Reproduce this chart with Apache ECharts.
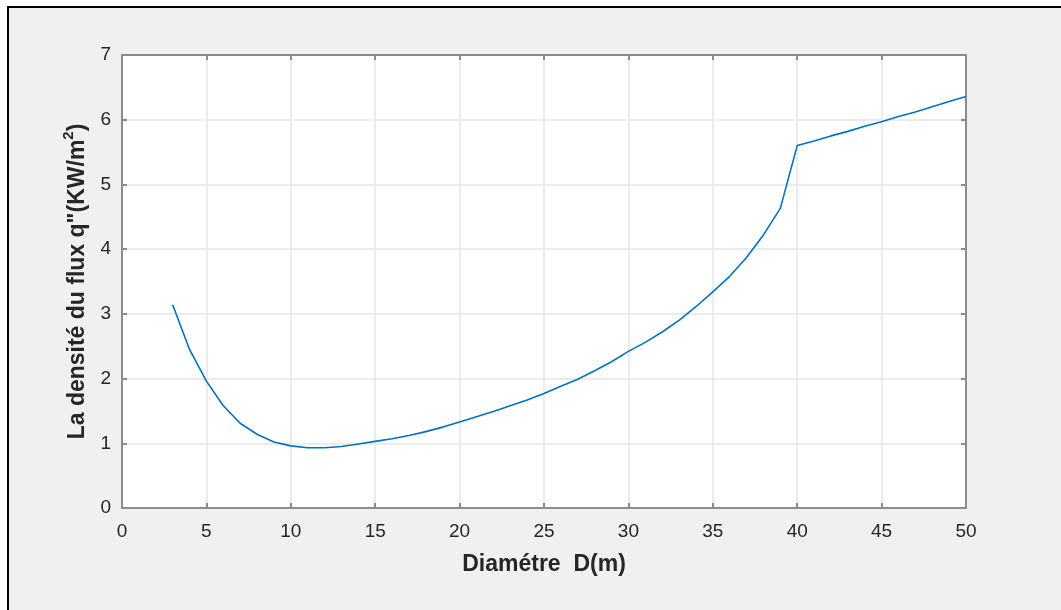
<!DOCTYPE html>
<html>
<head>
<meta charset="utf-8">
<script src="https://cdn.jsdelivr.net/npm/echarts@6/dist/echarts.min.js"></script>
<style>
html,body{margin:0;padding:0;background:#fff;}
#c{width:1061px;height:610px;}
</style>
</head>
<body>
<div id="c"></div>
<script>
// Diameter D (m)
const diam = [3,4,5,6,7,8,9,10,11,12,13,14,15,16,17,18,19,20,21,22,23,24,25,26,27,28,29,30,31,32,33,34,35,36,37,38,39,40,41,42,43,44,45,46,47,48,49,50];
// Heat flux density q'' (KW/m^2)
const flux = [3.14,2.45,1.96,1.58,1.31,1.14,1.02,0.96,0.93,0.93,0.95,0.99,1.03,1.07,1.12,1.18,1.25,1.33,1.41,1.49,1.58,1.67,1.77,1.88,1.99,2.12,2.26,2.42,2.56,2.72,2.90,3.11,3.34,3.58,3.87,4.22,4.63,5.60,5.67,5.75,5.82,5.90,5.97,6.05,6.12,6.20,6.28,6.36];
const xTicks = {min:0, max:50, interval:5};
const yTicks = {min:0, max:7, interval:1};
const xName = 'Diamétre  D(m)';
const yNameMain = 'La densité du flux q"(KW/m';

const chart = echarts.init(document.getElementById('c'));
const FONT = '"Liberation Sans", Arial, Helvetica, sans-serif';
const axisCol = '#8c8c8c';
const tickLabel = {fontFamily: FONT, fontSize: 19, color: '#262626'};

chart.setOption({
  backgroundColor: '#ffffff',
  animation: false,
  graphic: [{
    type: 'rect', z: -100, silent: true,
    shape: {x: 8, y: 7, width: 1200, height: 800},
    style: {fill: '#f0f0f0', stroke: '#000', lineWidth: 2}
  }],
  grid: {left: 122, top: 55, right: 95, bottom: 102, show: true, backgroundColor: '#ffffff', borderWidth: 0},
  xAxis: [{
    type: 'value', min: xTicks.min, max: xTicks.max, interval: xTicks.interval,
    position: 'bottom',
    name: xName, nameLocation: 'middle', nameGap: 45,
    nameTextStyle: {fontFamily: FONT, fontSize: 23, fontWeight: 'bold', color: '#262626'},
    axisLine: {show: true, lineStyle: {color: axisCol, width: 2}},
    axisTick: {show: true, inside: true, length: 5, lineStyle: {color: axisCol, width: 2}},
    axisLabel: Object.assign({margin: 14}, tickLabel),
    splitLine: {show: true, lineStyle: {color: '#e6e6e6', width: 1.5}}
  }, {
    type: 'value', min: xTicks.min, max: xTicks.max, interval: xTicks.interval,
    position: 'top',
    axisLine: {show: true, onZero: false, lineStyle: {color: axisCol, width: 2}},
    axisTick: {show: true, inside: true, length: 5, lineStyle: {color: axisCol, width: 2}},
    axisLabel: {show: false}, splitLine: {show: false}
  }],
  yAxis: [{
    type: 'value', min: yTicks.min, max: yTicks.max, interval: yTicks.interval,
    position: 'left',
    name: '{m|' + yNameMain + '}{s|2}{m|)}', nameLocation: 'middle', nameGap: 33,
    nameTextStyle: {
      fontFamily: FONT, fontSize: 23, fontWeight: 'bold', color: '#262626',
      rich: {
        m: {fontFamily: FONT, fontSize: 23, fontWeight: 'bold', color: '#262626', verticalAlign: 'bottom', lineHeight: 28},
        s: {fontFamily: FONT, fontSize: 15, fontWeight: 'bold', color: '#262626', verticalAlign: 'top', lineHeight: 28}
      }
    },
    axisLine: {show: true, onZero: false, lineStyle: {color: axisCol, width: 2}},
    axisTick: {show: true, inside: true, length: 5, lineStyle: {color: axisCol, width: 2}},
    axisLabel: Object.assign({margin: 11}, tickLabel),
    splitLine: {show: true, lineStyle: {color: '#e6e6e6', width: 1.5}}
  }, {
    type: 'value', min: yTicks.min, max: yTicks.max, interval: yTicks.interval,
    position: 'right',
    axisLine: {show: true, onZero: false, lineStyle: {color: axisCol, width: 2}},
    axisTick: {show: true, inside: true, length: 5, lineStyle: {color: axisCol, width: 2}},
    axisLabel: {show: false}, splitLine: {show: false}
  }],
  series: [{
    type: 'line',
    data: diam.map((d, i) => [d, flux[i]]),
    showSymbol: false, symbol: 'none',
    lineStyle: {color: '#0072BD', width: 1.6},
    smooth: false
  }]
});
</script>
</body>
</html>
